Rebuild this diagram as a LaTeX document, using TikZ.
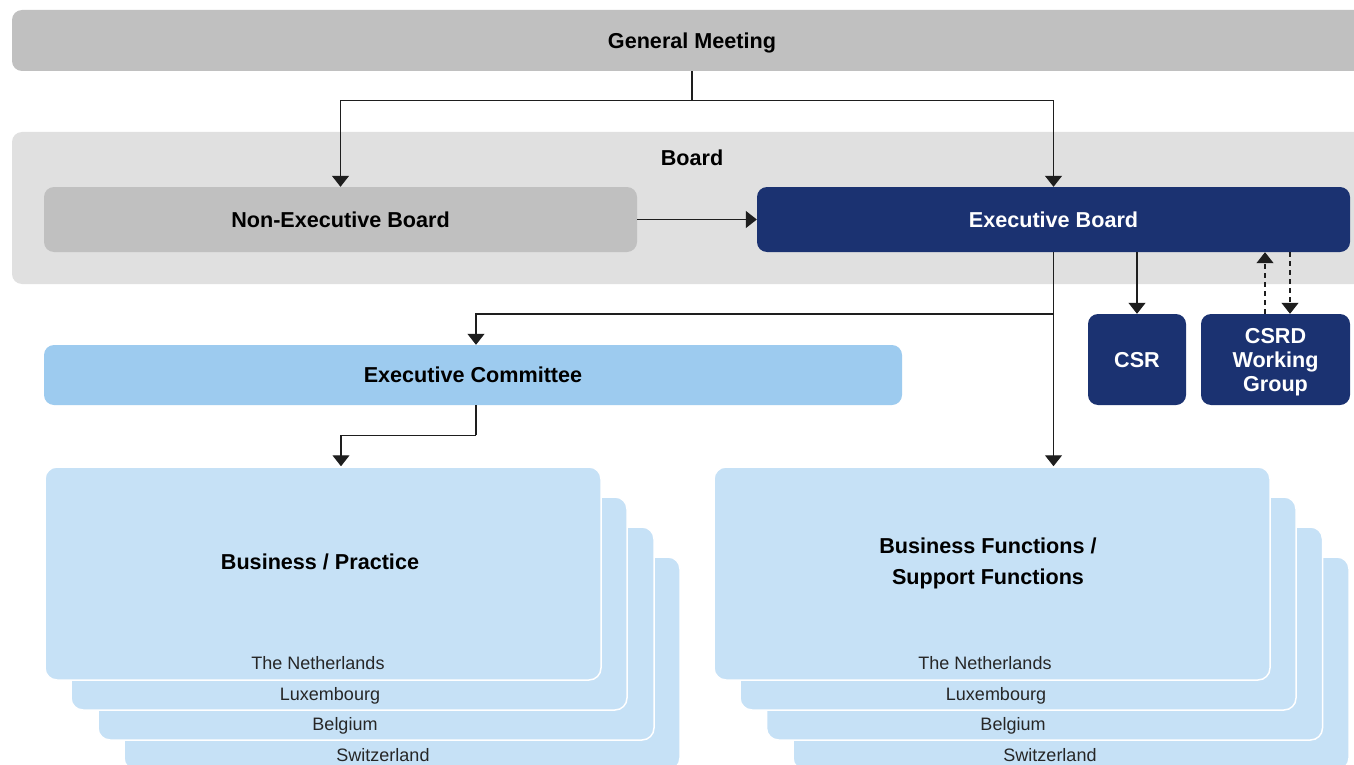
\documentclass[tikz,border=0pt]{standalone}
\usepackage{fontspec}
\setmainfont{Liberation Sans}
\usetikzlibrary{arrows.meta}
\definecolor{gmgray}{RGB}{192,192,192}
\definecolor{boardgray}{RGB}{224,224,224}
\definecolor{navy}{RGB}{27,50,113}
\definecolor{ecblue}{RGB}{157,203,239}
\definecolor{cardblue}{RGB}{198,225,246}
\definecolor{linegray}{RGB}{30,30,30}
\begin{document}
\begin{tikzpicture}[x=1pt,y=-1pt,
  box/.style={rounded corners=10pt, inner sep=0pt, align=center, text depth=0pt,
    font=\bfseries\fontsize{21.6}{24}\selectfont},
  card/.style={rounded corners=12pt, inner sep=0pt, fill=cardblue, draw=white,
    line width=1.5pt, minimum width=556pt, minimum height=213pt},
  title/.style={inner sep=0pt, align=center, text depth=0pt, font=\bfseries\fontsize{21.6}{31}\selectfont},
  country/.style={inner sep=0pt, text depth=0pt, font=\fontsize{18}{20}\selectfont, text=black!85},
  arr/.style={draw=linegray, line width=1.1pt, -{Triangle[width=17pt,length=11pt]}},
  dasharr/.style={draw=linegray, line width=1.1pt, dash pattern=on 5pt off 4pt,
    -{Triangle[width=17pt,length=11pt]}},
  plain/.style={draw=linegray, line width=1.1pt}]
\clip (0,0) rectangle (1354,765);
\fill[white] (0,0) rectangle (1354,765);

% top-level boxes
\node[box, fill=gmgray, minimum width=1360pt, minimum height=61pt] (gm) at (692,40.5) {General Meeting};
\node[box, fill=boardgray, minimum width=1360pt, minimum height=152pt] (board) at (692,208) {};
\node[box] (boardlabel) at (692,158) {Board};
\node[box, fill=gmgray, minimum width=593pt, minimum height=65pt] (neb) at (340.5,219.5) {Non-Executive Board};
\node[box, fill=navy, text=white, minimum width=593pt, minimum height=65pt] (eb) at (1053.5,219.5) {Executive Board};
\node[box, fill=ecblue, minimum width=858pt, minimum height=60pt] (ec) at (473,375) {Executive Committee};
\node[box, fill=navy, text=white, minimum width=98pt, minimum height=91pt] (csr) at (1137,359.5) {CSR};
\node[box, fill=navy, text=white, minimum width=149pt, minimum height=91pt] (csrd) at (1275.5,359.5) {CSRD\\Working\\Group};

% stacked cards left
\node[card] (bp4) at (402,663.5) {};
\node[card] (bp3) at (376,633.5) {};
\node[card] (bp2) at (349,603.5) {};
\node[card] (bp1) at (323,573.5) {};
\node[title] (bptitle) at (320,562) {Business / Practice};
\node[country] (bpnl) at (318,663) {The Netherlands};
\node[country] (bplu) at (330,694) {Luxembourg};
\node[country] (bpbe) at (345,724) {Belgium};
\node[country] (bpch) at (383,755) {Switzerland};

% stacked cards right
\node[card] (bf4) at (1071,663.5) {};
\node[card] (bf3) at (1044.5,633.5) {};
\node[card] (bf2) at (1018,603.5) {};
\node[card] (bf1) at (992,573.5) {};
\node[title] (bftitle) at (988,561.5) {Business Functions /\\Support Functions};
\node[country] (bfnl) at (985,663) {The Netherlands};
\node[country] (bflu) at (996,694) {Luxembourg};
\node[country] (bfbe) at (1013,724) {Belgium};
\node[country] (bfch) at (1050,755) {Switzerland};

% connectors
\coordinate (gmsplit) at ([yshift=-29pt]gm.south);
\draw[plain] (gm.south) -- (gmsplit);
\draw[arr] (gmsplit) -| (neb.north);
\draw[arr] (gmsplit) -| (eb.north);
\draw[arr] (neb.east) -- (eb.west);
\coordinate (ebsplit) at (1053.5,314);
\draw[arr] (eb.south) -- (eb.south |- bf1.north);
\draw[arr] (ebsplit) -| ([xshift=3pt]ec.north);
\draw[arr] (eb.south -| csr.north) -- (csr.north);
\draw[dasharr] ([xshift=-10.5pt]csrd.north) -- ([xshift=-10.5pt]csrd.north |- eb.south);
\draw[dasharr] ([xshift=14.5pt]csrd.north |- eb.south) -- ([xshift=14.5pt]csrd.north);
\coordinate (ecsplit) at ([xshift=3pt,yshift=-30pt]ec.south);
\draw[plain] ([xshift=3pt]ec.south) -- (ecsplit);
\draw[arr] (ecsplit) -| ([xshift=18pt]bp1.north);
\end{tikzpicture}
\end{document}
